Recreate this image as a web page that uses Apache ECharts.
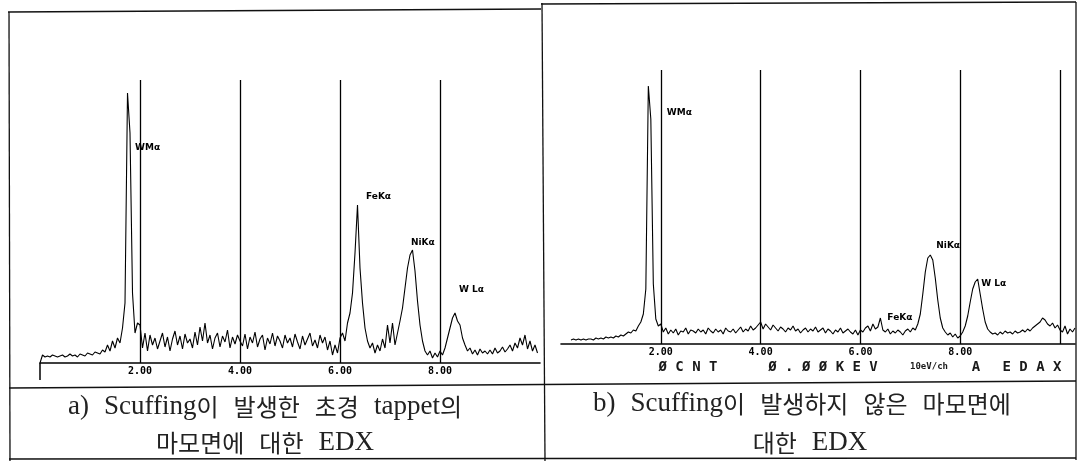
<!DOCTYPE html>
<html>
<head>
<meta charset="utf-8">
<script src="https://cdn.jsdelivr.net/npm/echarts@6/dist/echarts.min.js"></script>
<style>
  html, body { margin: 0; padding: 0; background: #fff; }
  #chart { width: 1078px; height: 461px; }
</style>
</head>
<body>
<div id="chart"></div>
<script>
// EDX spectra, counts per 0.05 keV channel
var stepKeV = 0.05;

var startA = 0.0;
var countsA = [
  0, 8, 6, 7, 6, 8, 7, 6, 7, 8, 6, 7, 9, 7, 8, 6, 9, 8, 7, 10,
  9, 8, 11, 10, 9, 13, 11, 18, 12, 22, 15, 25, 20, 35, 60, 270, 230, 70, 30, 40,
  38, 15, 30, 12, 28, 18, 25, 14, 22, 30, 16, 26, 12, 24, 32, 18, 27, 14, 29, 20,
  24, 15, 31, 18, 36, 22, 40, 20, 28, 14, 25, 30, 16, 27, 21, 33, 15, 26, 19, 28,
  22, 17, 29, 14, 26, 20, 31, 16, 24, 28, 13, 25, 19, 30, 17, 27, 22, 15, 28, 20,
  25, 16, 29, 21, 14, 27, 18, 24, 30, 17, 23, 15, 28, 20, 26, 13, 22, 8, 18, 10,
  25, 30, 22, 40, 50, 70, 110, 158, 95, 60, 35, 22, 15, 20, 10, 18, 12, 24, 15, 38,
  20, 40, 18, 30, 42, 55, 75, 95, 108, 113, 92, 62, 38, 22, 12, 8, 12, 5, 10, 6,
  12, 8, 15, 25, 35, 45, 50, 42, 38, 25, 18, 12, 15, 9, 13, 8, 14, 10, 12, 9,
  13, 9, 15, 10, 12, 16, 11, 14, 18, 12, 20, 15, 25, 18, 28, 14, 22, 12, 18, 10
];

var startB = 0.2;
var countsB = [
  4, 5, 4, 5, 4, 5, 4, 5, 5, 4, 6, 5, 6, 5, 7, 6,
  7, 6, 8, 7, 9, 8, 10, 12, 11, 14, 13, 18, 22, 30, 55, 258, 225, 60, 25, 18,
  20, 12, 16, 10, 14, 11, 15, 9, 13, 12, 16, 10, 14, 13, 11, 15, 12, 14, 10, 16,
  13, 11, 15, 12, 14, 10, 16, 13, 12, 15, 11, 14, 17, 12, 15, 13, 18, 14, 16, 19,
  22, 15, 20, 17, 14, 19, 16, 13, 17, 15, 12, 16, 14, 18, 13, 15, 11, 14, 16, 12,
  15, 13, 17, 12, 14, 16, 11, 15, 13, 10, 14, 12, 16, 11, 13, 15, 12, 10, 14, 9,
  14, 12, 16, 18, 13, 20, 15, 17, 26, 14, 12, 15, 10, 13, 11, 14, 12, 9, 13, 15,
  12, 16, 14, 20, 30, 50, 72, 86, 89, 84, 66, 44, 26, 16, 12, 9, 11, 7, 10, 6,
  8, 12, 18, 28, 42, 55, 62, 65, 50, 35, 22, 15, 12, 10, 11, 9, 12, 10, 13, 11,
  12, 10, 13, 11, 12, 14, 12, 15, 13, 16, 18, 20, 22, 26, 24, 20, 18, 21, 16, 19,
  14, 12, 18, 10, 15, 12, 16
];

// marker lines (keV) and tick labels
var markersA = [2, 4, 6, 8];
var markersB = [2, 4, 6, 8, 10];
var tickValues = [2, 4, 6, 8];
var tickLabels = ['2.00', '4.00', '6.00', '8.00'];

// peak labels: name, keV, counts
var peaksA = ['WMα', 'FeKα', 'NiKα', 'W Lα'];
var peakKeVA = [1.9, 6.52, 7.42, 8.38];
var peakCntA = [215, 166, 120, 73];
var peaksB = ['WMα', 'NiKα', 'W Lα', 'FeKα'];
var peakKeVB = [2.12, 7.52, 8.42, 6.54];
var peakCntB = [231, 98, 60, 26];

var captionA = ['a) Scuffing이 발생한 초경 tappet의', '마모면에 대한 EDX'];
var captionB = ['b) Scuffing이 발생하지 않은 마모면에', '대한 EDX'];

function toPairs(start, counts) {
  return counts.map(function(c, i) {
    return [+(start + i * stepKeV).toFixed(2), c];
  });
}

function tickFmt(v) {
  var i = tickValues.indexOf(v);
  return i < 0 ? '' : tickLabels[i];
}

function markPoints(names, kev, cnt, size) {
  return {
    symbol: 'circle',
    symbolSize: 0,
    label: {
      show: true, position: 'right', distance: 0, formatter: '{b}',
      color: '#000', fontFamily: 'DejaVu Sans', fontWeight: 'bold', fontSize: size
    },
    data: names.map(function(n, i) { return { name: n, coord: [kev[i], cnt[i]] }; })
  };
}

function markLines(list) {
  return {
    symbol: 'none',
    silent: true,
    label: { show: false },
    lineStyle: { color: '#000', width: 1.3, type: 'solid' },
    data: list.map(function(v) { return { xAxis: v }; })
  };
}

// hangul in sans, latin in serif, wide word gaps
function richCaption(s) {
  return s.split(' ').map(function(w) {
    return w.split(/([\uAC00-\uD7A3]+)/).filter(Boolean).map(function(p) {
      return /[\uAC00-\uD7A3]/.test(p) ? '{k|' + p + '}' : '{l|' + p + '}';
    }).join('');
  }).join('{g| }');
}

var capRich = {
  k: { fontFamily: 'Noto Sans CJK KR', fontSize: 24, fill: '#222' },
  l: { fontFamily: 'Liberation Serif', fontSize: 27, fill: '#222' },
  g: { fontSize: 22, width: 15 }
};

var axisX = {
  type: 'value',
  min: 0,
  interval: 2,
  axisLine: { lineStyle: { color: '#000', width: 1.6 } },
  axisTick: { show: false },
  splitLine: { show: false },
  axisLabel: {
    formatter: tickFmt, color: '#000', margin: 3,
    fontFamily: 'DejaVu Sans Mono', fontWeight: 'bold', fontSize: 10
  }
};

var chart = echarts.init(document.getElementById('chart'));

var txt = function(x, y, text, size, font, weight) {
  return {
    type: 'text', x: x, y: y, silent: true,
    style: {
      text: text, fill: '#1a1a1a', font: (weight || 'normal') + ' ' + size + 'px ' + font,
      textAlign: 'center', textVerticalAlign: 'middle'
    }
  };
};
var cap = function(x, y, text) {
  return {
    type: 'text', x: x, y: y, silent: true,
    style: {
      text: richCaption(text), rich: capRich, fill: '#222',
      textAlign: 'center', textVerticalAlign: 'middle'
    }
  };
};
var ln = function(x1, y1, x2, y2, w) {
  return {
    type: 'line', silent: true,
    shape: { x1: x1, y1: y1, x2: x2, y2: y2 },
    style: { stroke: '#111', lineWidth: w || 1.3 }
  };
};
var monoFont = '"DejaVu Sans Mono", monospace';

chart.setOption({
  animation: false,
  backgroundColor: '#fff',
  grid: [
    { left: 40, right: 538, top: 80, bottom: 98 },
    { left: 561, right: 2, top: 70, bottom: 117 }
  ],
  xAxis: [
    Object.assign({}, axisX, {
      gridIndex: 0, max: 10,
      axisTick: { show: true, length: 17, customValues: [0], lineStyle: { color: '#000', width: 1.5 } }
    }),
    Object.assign({}, axisX, { gridIndex: 1, max: 10.3 })
  ],
  yAxis: [
    { type: 'value', gridIndex: 0, min: 0, max: 283, show: false },
    { type: 'value', gridIndex: 1, min: 0, max: 274, show: false }
  ],
  series: [
    {
      name: 'a', type: 'line', xAxisIndex: 0, yAxisIndex: 0,
      data: toPairs(startA, countsA), showSymbol: false,
      lineStyle: { color: '#000', width: 1.1 },
      markLine: markLines(markersA),
      markPoint: markPoints(peaksA, peakKeVA, peakCntA, 9)
    },
    {
      name: 'b', type: 'line', xAxisIndex: 1, yAxisIndex: 1,
      data: toPairs(startB, countsB), showSymbol: false,
      lineStyle: { color: '#000', width: 1.1 },
      markLine: markLines(markersB),
      markPoint: markPoints(peaksB, peakKeVB, peakCntB, 9)
    }
  ],
  graphic: [
    // table frame
    ln(8, 12, 541, 9),
    ln(541, 4, 1076, 2),
    ln(9, 12, 10, 461),
    ln(542, 3, 545, 461),
    ln(1076, 2, 1076, 460),
    ln(9, 388, 1076, 381),
    ln(9, 459, 1076, 458),
    // instrument footer of spectrum b
    txt(688, 367, 'Ø C N T', 14, monoFont, 'bold'),
    txt(823, 367, 'Ø . Ø Ø K E V', 14, monoFont, 'bold'),
    txt(929, 367, '10eV/ch', 9, monoFont, 'bold'),
    txt(976, 367, 'A', 14, monoFont, 'bold'),
    txt(1032, 367, 'E D A X', 14, monoFont, 'bold'),
    // captions
    cap(265, 407, captionA[0]),
    cap(265, 443, captionA[1]),
    cap(802, 404, captionB[0]),
    cap(810, 443, captionB[1])
  ]
});
</script>
</body>
</html>
